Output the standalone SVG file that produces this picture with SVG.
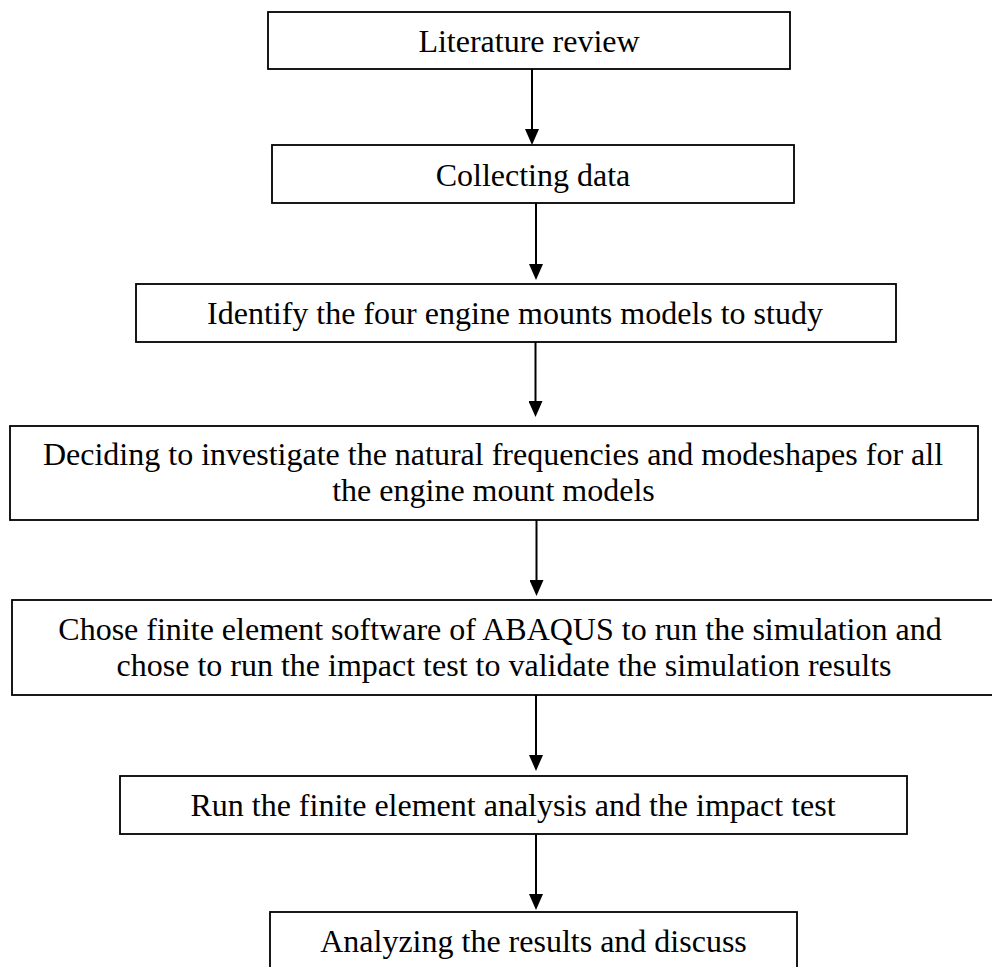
<svg xmlns="http://www.w3.org/2000/svg" width="992" height="967" viewBox="0 0 992 967">
  <defs>
    <marker id="arrow" markerUnits="userSpaceOnUse" markerWidth="16" markerHeight="14" refX="4" refY="7" orient="auto" viewBox="0 0 16 14">
      <path d="M0,0 L16,7 L0,14 z" fill="#000"/>
    </marker>
    <style>
      .box { fill: #fff; stroke: #000; stroke-width: 1.8; }
      .lbl { font-family: "Liberation Serif", "Times New Roman", serif; font-size: 32px; fill: #000; text-anchor: middle; }
      .conn { stroke: #000; stroke-width: 2; fill: none; marker-end: url(#arrow); }
    </style>
  </defs>
  <rect width="992" height="967" fill="#fff"/>

  <g id="connectors">
    <line class="conn" x1="532" y1="67" x2="532" y2="133"/>
    <line class="conn" x1="536" y1="201" x2="536" y2="268"/>
    <line class="conn" x1="535.5" y1="338" x2="535.5" y2="405"/>
    <line class="conn" x1="536.5" y1="517" x2="536.5" y2="584"/>
    <line class="conn" x1="536" y1="692" x2="536" y2="759"/>
    <line class="conn" x1="536" y1="830" x2="536" y2="898"/>
  </g>

  <g id="node-literature">
    <rect class="box" x="268" y="12" width="522" height="57"/>
    <text class="lbl" x="529" y="52">Literature review</text>
  </g>
  <g id="node-collecting">
    <rect class="box" x="272" y="145" width="522" height="58"/>
    <text class="lbl" x="533" y="186">Collecting data</text>
  </g>
  <g id="node-identify">
    <rect class="box" x="136" y="284" width="760" height="58"/>
    <text class="lbl" x="515" y="324">Identify the four engine mounts models to study</text>
  </g>
  <g id="node-deciding">
    <rect class="box" x="10" y="426" width="968" height="94"/>
    <text class="lbl" x="493" y="465">Deciding to investigate the natural frequencies and modeshapes for all</text>
    <text class="lbl" x="493.5" y="501">the engine mount models</text>
  </g>
  <g id="node-chose">
    <rect class="box" x="12" y="600" width="982" height="95"/>
    <text class="lbl" x="500" y="640">Chose finite element software of ABAQUS to run the simulation and</text>
    <text class="lbl" x="504" y="676">chose to run the impact test to validate the simulation results</text>
  </g>
  <g id="node-run">
    <rect class="box" x="120" y="776" width="787" height="58"/>
    <text class="lbl" x="513" y="816">Run the finite element analysis and the impact test</text>
  </g>
  <g id="node-analyzing">
    <rect class="box" x="270" y="912" width="527" height="62"/>
    <text class="lbl" x="533.5" y="952">Analyzing the results and discuss</text>
  </g>
</svg>
